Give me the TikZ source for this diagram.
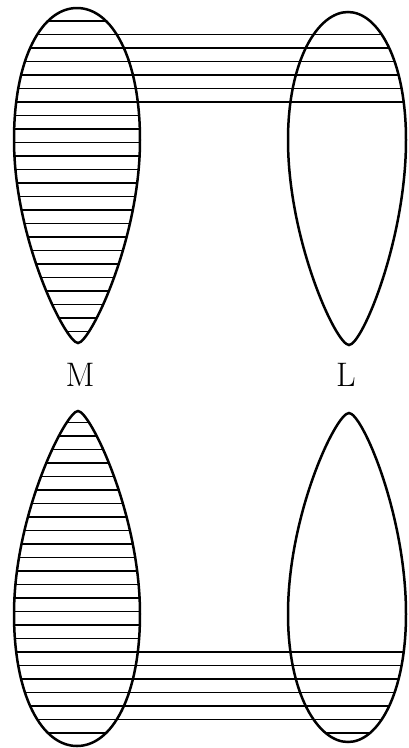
\documentclass[tikz,border=0pt]{standalone}
\usepackage{tikz}
\tikzset{
  outline/.style={draw=black,line width=2.5pt},
  hatchline/.style={draw=black,line width=1.8pt},
  lbl/.style={font=\fontsize{34}{36}\selectfont,inner sep=0pt},
}

\begin{document}
\begin{tikzpicture}[x=1pt,y=-1pt]
  \useasboundingbox (0,0) rectangle (408,748);
  % upper pair
  \path[save path=\leafMa] (78,343) .. controls (66,343) and (14,240) .. (14,140)
    .. controls (14,58) and (42,8) .. (77,8) .. controls (112,8) and (140,58) .. (140,140)
    .. controls (140,240) and (90,343) .. (78,343) -- cycle;
  \path[save path=\leafLa] (349,345) .. controls (336,345) and (288,240) .. (288,140)
    .. controls (288,60) and (318,12) .. (348,12) .. controls (378,12) and (406,60) .. (406,140)
    .. controls (406,240) and (362,345) .. (349,345) -- cycle;
  \begin{scope}
    \clip[use path=\leafMa];
    \foreach \k in {0,...,23}
      \draw[hatchline] (0,21+13.5*\k) -- (160,21+13.5*\k);
  \end{scope}
  \begin{scope}
    \clip[use path=\leafLa];
    \foreach \k in {1,...,6}
      \draw[hatchline] (270,21+13.5*\k) -- (408,21+13.5*\k);
  \end{scope}
  \foreach \k in {1,...,6}
    \draw[hatchline] (78,21+13.5*\k) -- (349,21+13.5*\k);
  \draw[outline,use path=\leafMa];
  \draw[outline,use path=\leafLa];

  \node[lbl] (labM) at (80,375) {M};
  \node[lbl] (labL) at (346,375) {L};

  % lower pair (mirrored)
  \begin{scope}[y=1pt,yshift=-754pt]
    \path[save path=\leafMb] (78,343) .. controls (66,343) and (14,240) .. (14,140)
      .. controls (14,58) and (42,8) .. (77,8) .. controls (112,8) and (140,58) .. (140,140)
      .. controls (140,240) and (90,343) .. (78,343) -- cycle;
    \path[save path=\leafLb] (349,341) .. controls (336,341) and (288,240) .. (288,140)
      .. controls (288,60) and (318,12) .. (348,12) .. controls (378,12) and (406,60) .. (406,140)
      .. controls (406,240) and (362,341) .. (349,341) -- cycle;
    \begin{scope}
      \clip[use path=\leafMb];
      \foreach \k in {0,...,23}
        \draw[hatchline] (0,21+13.5*\k) -- (160,21+13.5*\k);
    \end{scope}
    \begin{scope}
      \clip[use path=\leafLb];
      \foreach \k in {0,...,6}
        \draw[hatchline] (270,21+13.5*\k) -- (408,21+13.5*\k);
    \end{scope}
    \foreach \k in {1,...,6}
      \draw[hatchline] (78,21+13.5*\k) -- (349,21+13.5*\k);
    \draw[outline,use path=\leafMb];
    \draw[outline,use path=\leafLb];
  \end{scope}
\end{tikzpicture}
\end{document}
